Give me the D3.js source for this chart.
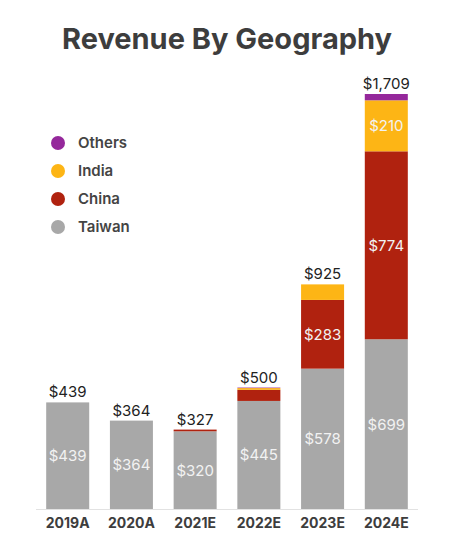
<!DOCTYPE html>
<meta charset="utf-8">
<style>
  body { margin: 0; background: #fff; }
  text { font-family: Inter, "Open Sans", sans-serif; }
  .title { font-size: 29px; font-weight: 700; fill: #3d3d3d; }
  .legend text { font-size: 15px; font-weight: 600; fill: #444; }
  .total { font-size: 15px; fill: #222; }
  .inside { font-size: 15px; fill: #f2f2f2; }
  .xlab { font-size: 14px; font-weight: 700; fill: #3d3d3d; }
</style>
<svg width="454" height="540"></svg>
<script src="https://d3js.org/d3.v7.min.js"></script>
<script>

  // data
  var years = ["2019A", "2020A", "2021E", "2022E", "2023E", "2024E"];
  var taiwan = [439, 364, 320, 445, 578, 699];
  var china = [0, 0, 7, 46, 283, 774];
  var india = [0, 0, 0, 7, 64, 210];
  var others = [0, 0, 0, 2, 0, 26];
  var totals = [439, 364, 327, 500, 925, 1709];

  var seriesNames = ["Taiwan", "China", "India", "Others"];
  var colors = { Taiwan: "#a8a8a8", China: "#b0220f", India: "#fdb515", Others: "#95289b" };

  var rows = years.map(function (y, i) {
    return { year: y, Taiwan: taiwan[i], China: china[i], India: india[i], Others: others[i], total: totals[i] };
  });

  var svg = d3.select("svg");

  var x = d3.scaleBand().domain(years).range([36, 418]).paddingInner(0.325).paddingOuter(0.16);
  var y = d3.scaleLinear().domain([0, 1709]).range([509, 94]);

  var stack = d3.stack().keys(seriesNames)(rows);

  svg.append("text").attr("class", "title")
    .attr("x", 227).attr("y", 49).attr("text-anchor", "middle")
    .text("Revenue By Geography");

  // bars
  var layer = svg.selectAll("g.layer").data(stack).enter().append("g")
    .attr("class", "layer")
    .attr("fill", function (d) { return colors[d.key]; });

  layer.selectAll("rect").data(function (d) { return d; }).enter().append("rect")
    .attr("x", function (d) { return x(d.data.year); })
    .attr("width", x.bandwidth())
    .attr("y", function (d) { return y(d[1]); })
    .attr("height", function (d) { return y(d[0]) - y(d[1]); });

  // labels inside segments (only the big ones)
  layer.selectAll("text").data(function (d) { return d; }).enter()
    .filter(function (d) { return d[1] - d[0] >= 100; })
    .append("text").attr("class", "inside")
    .attr("x", function (d) { return x(d.data.year) + x.bandwidth() / 2; })
    .attr("y", function (d) { return (y(d[0]) + y(d[1])) / 2; })
    .attr("dy", "0.36em")
    .attr("text-anchor", "middle")
    .text(function (d) { return "$" + d3.format(",")(d[1] - d[0]); });

  // totals
  svg.selectAll("text.total").data(rows).enter().append("text").attr("class", "total")
    .attr("x", function (d) { return x(d.year) + x.bandwidth() / 2; })
    .attr("y", function (d) { return y(d.total) - 5; })
    .attr("text-anchor", "middle")
    .text(function (d) { return "$" + d3.format(",")(d.total); });

  // x axis
  svg.append("line").attr("x1", 36).attr("x2", 418).attr("y1", 509.5).attr("y2", 509.5)
    .attr("stroke", "#e2e2e2").attr("stroke-width", 1);

  svg.selectAll("text.xlab").data(years).enter().append("text").attr("class", "xlab")
    .attr("x", function (d) { return x(d) + x.bandwidth() / 2; })
    .attr("y", 528)
    .attr("text-anchor", "middle")
    .text(function (d) { return d; });

  // legend
  var legendOrder = ["Others", "India", "China", "Taiwan"];
  var lg = svg.append("g").attr("class", "legend").selectAll("g").data(legendOrder).enter().append("g")
    .attr("transform", function (d, i) { return "translate(58," + (143 + i * 28) + ")"; });
  lg.append("circle").attr("r", 7).attr("fill", function (d) { return colors[d]; });
  lg.append("text").attr("x", 20).attr("dy", "0.36em").text(function (d) { return d; });

</script>
